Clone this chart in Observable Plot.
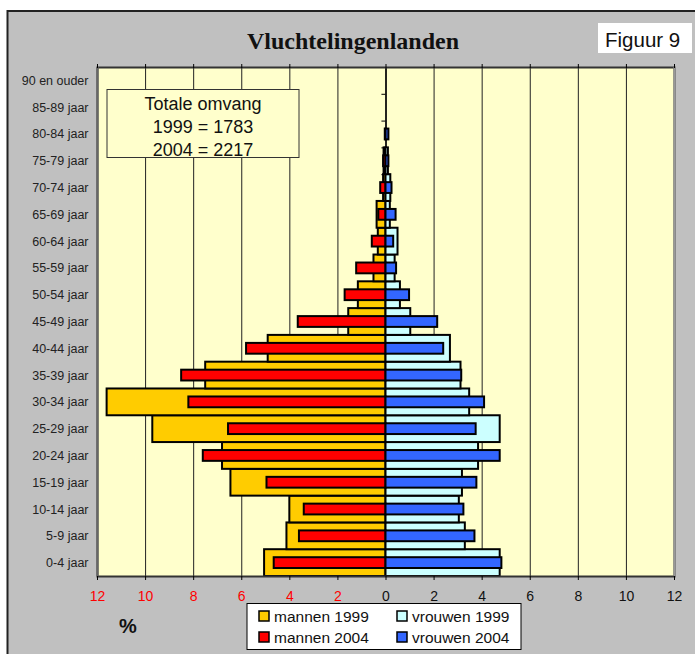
<!DOCTYPE html>
<html>
<head>
<meta charset="utf-8">
<script src="https://cdn.jsdelivr.net/npm/d3@7"></script>
<script src="https://cdn.jsdelivr.net/npm/@observablehq/plot@0.6"></script>
<style>
html, body { margin: 0; padding: 0; background: #fff; }
#chart { position: relative; width: 695px; height: 654px; overflow: hidden; }
</style>
</head>
<body>
<div id="chart"></div>
<script>
// ---- data ----
const ages = ["0-4 jaar","5-9 jaar","10-14 jaar","15-19 jaar","20-24 jaar","25-29 jaar","30-34 jaar","35-39 jaar","40-44 jaar","45-49 jaar","50-54 jaar","55-59 jaar","60-64 jaar","65-69 jaar","70-74 jaar","75-79 jaar","80-84 jaar","85-89 jaar","90 en ouder"];
const mannen1999  = [5.05, 4.12, 4.0, 6.45, 6.8, 9.7, 11.6, 7.5, 4.9, 1.55, 1.15, 0.5, 0.32, 0.37, 0.1, 0.08, 0, 0, 0];
const mannen2004  = [4.65, 3.6, 3.4, 4.95, 7.6, 6.55, 8.2, 8.5, 5.8, 3.65, 1.7, 1.22, 0.57, 0.3, 0.22, 0.1, 0.03, 0, 0];
const vrouwen1999 = [4.75, 3.3, 3.05, 3.18, 3.85, 4.75, 3.48, 3.12, 2.68, 1.03, 0.6, 0.38, 0.5, 0.18, 0.2, 0.1, 0, 0, 0];
const vrouwen2004 = [4.82, 3.7, 3.24, 3.78, 4.75, 3.75, 4.1, 3.15, 2.4, 2.15, 0.98, 0.44, 0.32, 0.42, 0.25, 0.12, 0.12, 0, 0];
const seriesNames = ["mannen 1999", "vrouwen 1999", "mannen 2004", "vrouwen 2004"];
const seriesColors = ["#FFCC00", "#CCFFFF", "#FF0000", "#3366FF"];
const xTicks = [-12, -10, -8, -6, -4, -2, 0, 2, 4, 6, 8, 10, 12];
const title = "Vluchtelingenlanden";
const figLabel = "Figuur 9";
const totalLines = ["Totale omvang", "1999 = 1783", "2004 = 2217"];
const unitLabel = "%";

// ---- table ----
const rows = [];
ages.forEach((age, i) => {
  rows.push({age, series: "mannen 1999", year: 1999, value: -mannen1999[i]});
  rows.push({age, series: "vrouwen 1999", year: 1999, value: vrouwen1999[i]});
  rows.push({age, series: "mannen 2004", year: 2004, value: -mannen2004[i]});
  rows.push({age, series: "vrouwen 2004", year: 2004, value: vrouwen2004[i]});
});
const rows1999 = rows.filter(d => d.year === 1999 && d.value !== 0);
const rows2004 = rows.filter(d => d.year === 2004 && d.value !== 0);

const W = 695, H = 654;
const mL = 97, mR = 21, mT = 67, mB = 78;
const bw = (H - mT - mB) / ages.length;

const chart = Plot.plot({
  width: W, height: H,
  marginLeft: mL, marginRight: mR, marginTop: mT, marginBottom: mB,
  style: {background: "transparent", fontFamily: "'Liberation Sans', Arial, sans-serif", overflow: "visible"},
  x: {domain: [-12, 12]},
  y: {type: "band", domain: ages.slice().reverse(), padding: 0, round: false},
  color: {domain: seriesNames, range: seriesColors},
  marks: [
    Plot.frame({fill: "#FFFFCC"}),
    Plot.ruleX(xTicks, {stroke: "#222", strokeWidth: 1}),
    Plot.ruleY(ages, {y: d => d, x1: d => -0.17, x2: d => 0, dy: -bw / 2, stroke: "#000", strokeWidth: 1}),
    Plot.ruleX([0], {stroke: "#000", strokeWidth: 1.5}),
    Plot.barX(rows1999, {y: "age", x1: d => 0, x2: "value", fill: "series", stroke: "#000", strokeWidth: 2}),
    Plot.barX(rows2004, {y: "age", x1: d => 0, x2: "value", fill: "series", stroke: "#000", strokeWidth: 2, insetTop: 8, insetBottom: 8}),
    Plot.frame({stroke: "#333", strokeWidth: 2}),
    Plot.ruleX([-12], {stroke: "#666", strokeWidth: 2}),
    Plot.ruleX([12], {stroke: "#999", strokeWidth: 2}),
    Plot.axisX(xTicks.filter(d => d < 0), {anchor: "bottom", tickSize: 4, tickPadding: 11, tickFormat: d => Math.abs(d), fill: "#FF0000", fontSize: 14, label: null}),
    Plot.axisX(xTicks.filter(d => d >= 0), {anchor: "bottom", tickSize: 4, tickPadding: 11, tickFormat: d => Math.abs(d), fill: "#111", fontSize: 14, label: null}),
    Plot.axisX(xTicks, {anchor: "top", tickSize: 4, tickFormat: () => "", label: null}),
    Plot.axisY({tickSize: 0, tickPadding: 9, fontSize: 12.5, fill: "#222", label: null})
  ]
});
document.getElementById("chart").appendChild(chart);

// ---- background panel & annotations ----
const svg = d3.select(chart);
const bg = svg.insert("g", ":first-child");
bg.append("rect").attr("x", 0).attr("y", 0).attr("width", W).attr("height", H).attr("fill", "#fff");
bg.append("rect").attr("x", 7).attr("y", 11).attr("width", W).attr("height", H).attr("fill", "#C0C0C0");
bg.append("path").attr("d", `M7.5,${H + 5}V11H${W + 5}`).attr("stroke", "#222").attr("stroke-width", 2).attr("fill", "none");

const ann = svg.append("g").attr("text-anchor", "start");
ann.append("text").attr("x", 353).attr("y", 49).attr("text-anchor", "middle")
  .attr("font-family", "'Liberation Serif', 'Times New Roman', serif").attr("font-weight", "bold")
  .attr("font-size", 24).attr("fill", "#111").text(title);

ann.append("rect").attr("x", 598).attr("y", 23).attr("width", 94).attr("height", 30).attr("fill", "#fff");
ann.append("text").attr("x", 605).attr("y", 47).attr("text-anchor", "start").attr("font-size", 20.5).attr("fill", "#111").text(figLabel);

ann.append("rect").attr("x", 107).attr("y", 89.5).attr("width", 192).attr("height", 68)
  .attr("fill", "#FFFFCC").attr("stroke", "#333").attr("stroke-width", 1);
[109.5, 133, 156].forEach((yb, i) => {
  ann.append("text").attr("x", 203).attr("y", yb).attr("text-anchor", "middle")
    .attr("font-size", 18).attr("fill", "#111").text(totalLines[i]);
});

ann.append("text").attr("x", 128).attr("y", 633).attr("text-anchor", "middle")
  .attr("font-size", 20).attr("font-weight", "bold").attr("fill", "#111").text(unitLabel);

const lg = ann.append("g");
lg.append("rect").attr("x", 247).attr("y", 603.5).attr("width", 274).attr("height", 46)
  .attr("fill", "#fff").attr("stroke", "#000").attr("stroke-width", 1);
const legendPos = [
  {s: "mannen 1999", x: 259, y: 611},
  {s: "vrouwen 1999", x: 397, y: 611},
  {s: "mannen 2004", x: 259, y: 632},
  {s: "vrouwen 2004", x: 397, y: 632}
];
legendPos.forEach(p => {
  lg.append("rect").attr("x", p.x).attr("y", p.y).attr("width", 10).attr("height", 10)
    .attr("fill", seriesColors[seriesNames.indexOf(p.s)]).attr("stroke", "#000").attr("stroke-width", 1.5);
  lg.append("text").attr("x", p.x + 15).attr("y", p.y + 10.5).attr("text-anchor", "start")
    .attr("font-size", 15.5).attr("fill", "#111").text(p.s);
});
</script>
</body>
</html>
